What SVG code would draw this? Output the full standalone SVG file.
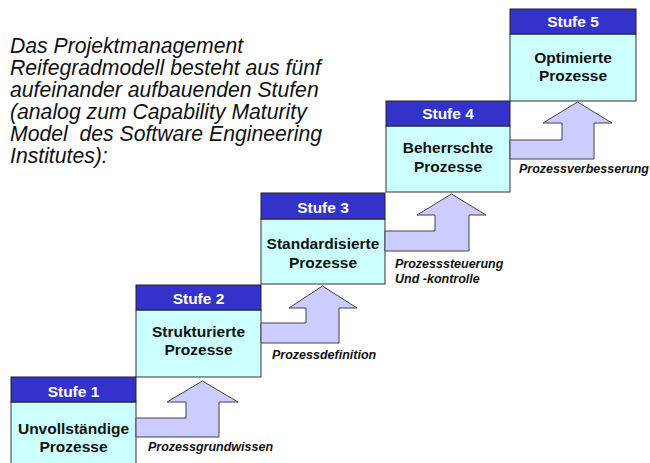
<svg xmlns="http://www.w3.org/2000/svg" width="650" height="463" viewBox="0 0 650 463">
<style>
.hd{fill:#3333CC;stroke:#222;stroke-width:1}
.bd{fill:#CCFFFF;stroke:#333;stroke-width:1}
.ht{font-family:"Liberation Sans",Arial,sans-serif;font-weight:bold;font-size:15.5px;fill:#fff;text-anchor:middle}
.bt{font-family:"Liberation Sans",Arial,sans-serif;font-weight:bold;font-size:15.5px;fill:#111;text-anchor:middle}
.ar{fill:#CCCCFF;stroke:#444;stroke-width:1}
.lb{font-family:"Liberation Sans",Arial,sans-serif;font-weight:bold;font-style:italic;font-size:12.5px;fill:#111}
.intro{font-family:"Liberation Sans",Arial,sans-serif;font-style:italic;font-size:21.2px;fill:#111}
</style>
<rect width="650" height="463" fill="#fff"/>
<g id="intro">
<text class="intro" x="10" y="53">Das Projektmanagement</text>
<text class="intro" x="10" y="75">Reifegradmodell besteht aus fünf</text>
<text class="intro" x="10" y="97">aufeinander aufbauenden Stufen</text>
<text class="intro" x="10" y="119">(analog zum Capability Maturity</text>
<text class="intro" x="10" y="141" xml:space="preserve">Model  des Software Engineering</text>
<text class="intro" x="10" y="163">Institutes):</text>
</g>
<g id="stufe1">
<rect class="bd" x="11" y="402" width="125" height="70"/>
<rect class="hd" x="11" y="377" width="125" height="25"/>
<text class="ht" x="73.5" y="397">Stufe 1</text>
<text class="bt" x="73.5" y="434">Unvollständige</text>
<text class="bt" x="73.5" y="452">Prozesse</text>
</g>
<g id="stufe2">
<rect class="bd" x="136" y="310" width="125" height="67"/>
<rect class="hd" x="136" y="285" width="125" height="25"/>
<text class="ht" x="198.5" y="304">Stufe 2</text>
<text class="bt" x="198.5" y="337">Strukturierte</text>
<text class="bt" x="198.5" y="355">Prozesse</text>
</g>
<g id="stufe3">
<rect class="bd" x="261" y="219" width="124" height="65"/>
<rect class="hd" x="261" y="193" width="124" height="26"/>
<text class="ht" x="323" y="213">Stufe 3</text>
<text class="bt" x="323" y="249">Standardisierte</text>
<text class="bt" x="323" y="268">Prozesse</text>
</g>
<g id="stufe4">
<rect class="bd" x="386" y="126" width="124" height="66"/>
<rect class="hd" x="386" y="101" width="124" height="25"/>
<text class="ht" x="448" y="119">Stufe 4</text>
<text class="bt" x="448" y="153">Beherrschte</text>
<text class="bt" x="448" y="172">Prozesse</text>
</g>
<g id="stufe5">
<rect class="bd" x="510" y="34" width="126" height="67"/>
<rect class="hd" x="510" y="9" width="126" height="25"/>
<text class="ht" x="573" y="27">Stufe 5</text>
<text class="bt" x="573" y="63">Optimierte</text>
<text class="bt" x="573" y="81">Prozesse</text>
</g>
<g id="connectors">
<path class="ar" d="M136,418 L186,418 L186,402 L167,402 L202.5,381 L238,402 L219,402 L219,437 L136,437 Z"/>
<path class="ar" d="M261,323 L306,323 L306,308 L289,308 L322.5,286 L357,308 L339,308 L339,343 L261,343 Z"/>
<path class="ar" d="M385,231 L435,231 L435,215 L417,215 L451.5,194 L486,215 L469,215 L469,251 L385,251 Z"/>
<path class="ar" d="M510,140 L562,140 L562,123 L543,123 L577.5,102 L612,123 L594,123 L594,159 L510,159 Z"/>
</g>
<g id="labels">
<text class="lb" x="148" y="451">Prozessgrundwissen</text>
<text class="lb" x="272" y="359">Prozessdefinition</text>
<text class="lb" x="395" y="267.5">Prozesssteuerung</text>
<text class="lb" x="395" y="283">Und -kontrolle</text>
<text class="lb" x="519" y="173">Prozessverbesserung</text>
</g>
</svg>
